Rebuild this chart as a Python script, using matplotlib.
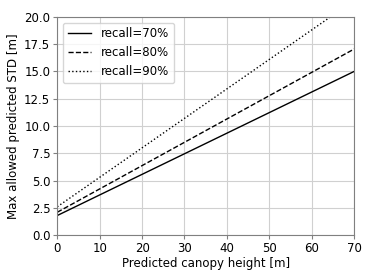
import matplotlib
matplotlib.use('Agg')
import matplotlib.pyplot as plt

height = [0, 70]
recall_70 = [1.8, 15.0]
recall_80 = [2.1, 17.05]
recall_90 = [2.6, 21.5]

fig, ax = plt.subplots(figsize=(3.74, 2.8), dpi=100)
ax.plot(height, recall_70, 'k-', lw=1, label='recall=70%')
ax.plot(height, recall_80, 'k--', lw=1, label='recall=80%')
ax.plot(height, recall_90, 'k:', lw=1, label='recall=90%')
ax.set_xlim(0, 70)
ax.set_ylim(0, 20)
ax.set_yticks([0, 2.5, 5, 7.5, 10, 12.5, 15, 17.5, 20])
ax.grid(True, color='#d0d0d0', lw=0.8)
for s in ax.spines.values():
    s.set_color('#808080')
ax.tick_params(labelsize=8.5, color='#808080', length=3, pad=2)
ax.set_xlabel('Predicted canopy height [m]', fontsize=8.5, labelpad=1)
ax.set_ylabel('Max allowed predicted STD [m]', fontsize=8.5, labelpad=3)
ax.legend(loc='upper left', fontsize=8.5)
fig.subplots_adjust(left=0.153, right=0.947, top=0.94, bottom=0.16)
fig.savefig('out.png')
